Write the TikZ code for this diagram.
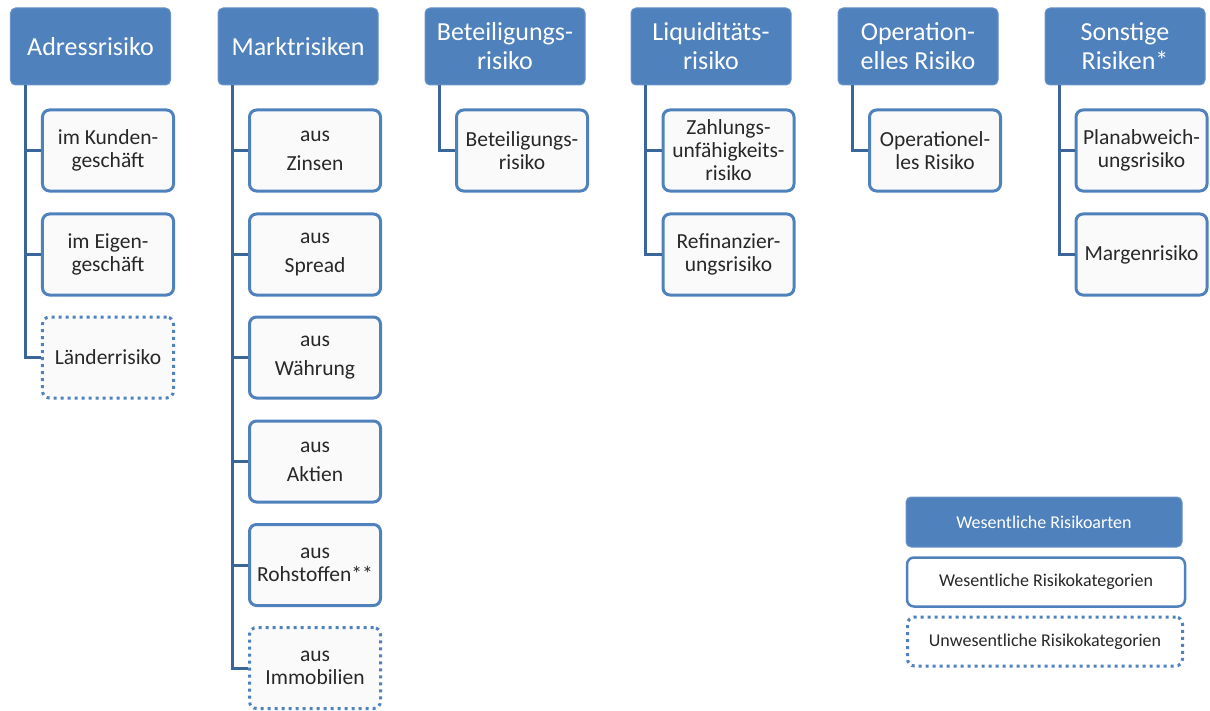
\documentclass[tikz,border=0pt]{standalone}
\usepackage{fontspec}
\setmainfont{Carlito}
\definecolor{riskblue}{RGB}{79,129,189}
\definecolor{linkblue}{RGB}{58,102,156}
\definecolor{boxfill}{RGB}{250,250,250}
\definecolor{textgray}{RGB}{40,40,40}
\begin{document}
\begin{tikzpicture}[x=1bp,y=-1bp,
  riskhead/.style={draw=riskblue!85!white,fill=riskblue,line width=1bp,rounded corners=5bp,
    minimum width=160bp,minimum height=77bp,text=white,align=center,
    font=\fontsize{26bp}{29bp}\selectfont},
  riskcat/.style={draw=riskblue,fill=boxfill,line width=3bp,rounded corners=7bp,
    minimum width=131bp,minimum height=81bp,text=textgray,align=center,
    font=\fontsize{21.5bp}{23bp}\selectfont},
  minorcat/.style={riskcat,dash pattern=on 3bp off 4bp},
  link/.style={draw=linkblue,line width=3bp},
  legfont/.style={font=\fontsize{18bp}{20bp}\selectfont},
]
\useasboundingbox (0,0) rectangle (1210,711);
  % Header row
  \node[riskhead] (adress) at (90.5,46.5) {Adressrisiko};
  \node[riskhead] (markt) at (298,46.5) {Marktrisiken};
  \node[riskhead] (beteil) at (505,46.5) {Beteiligungs-\\risiko};
  \node[riskhead] (liquid) at (711,46.5) {Liquiditäts-\\risiko};
  \node[riskhead] (operat) at (918,46.5) {Operation-\\elles Risiko};
  \node[riskhead] (sonst) at (1125,46.5) {Sonstige\\Risiken*};
  % Node: adress children
  \node[riskcat] (adress1) at (108,150.5) {im Kunden-\\geschäft};
  \node[riskcat] (adress2) at (108,254.5) {im Eigen-\\geschäft};
  \node[minorcat] (adress3) at (108,357.5) {Länderrisiko};
  % Node: markt children
  \node[riskcat] (markt1) at (315,150.5) {aus\\[6bp]Zinsen};
  \node[riskcat] (markt2) at (315,254.5) {aus\\[6bp]Spread};
  \node[riskcat] (markt3) at (315,357.5) {aus\\[6bp]Währung};
  \node[riskcat] (markt4) at (315,461.5) {aus\\[6bp]Aktien};
  \node[riskcat] (markt5) at (315,565) {aus\\Rohstoffen**};
  \node[minorcat] (markt6) at (315,668) {aus\\Immobilien};
  % Node: beteil, liquid, operat, sonst children
  \node[riskcat] (beteil1) at (522,150.5) {Beteiligungs-\\risiko};
  \node[riskcat] (liquid1) at (728.5,150.5) {Zahlungs-\\unfähigkeits-\\risiko};
  \node[riskcat] (liquid2) at (728.5,254.5) {Refinanzier-\\ungsrisiko};
  \node[riskcat] (operat1) at (935,150.5) {Operationel-\\les Risiko};
  \node[riskcat] (sonst1) at (1141.5,150.5) {Planabweich-\\ungsrisiko};
  \node[riskcat] (sonst2) at (1141.5,254.5) {Margenrisiko};
  % Edges: header -> category
  \draw[link] ([xshift=16bp]adress.south west) |- (adress1.west);
  \draw[link] ([xshift=16bp]adress.south west) |- (adress2.west);
  \draw[link] ([xshift=16bp]adress.south west) |- (adress3.west);
  \draw[link] ([xshift=15bp]markt.south west) |- (markt1.west);
  \draw[link] ([xshift=15bp]markt.south west) |- (markt2.west);
  \draw[link] ([xshift=15bp]markt.south west) |- (markt3.west);
  \draw[link] ([xshift=15bp]markt.south west) |- (markt4.west);
  \draw[link] ([xshift=15bp]markt.south west) |- (markt5.west);
  \draw[link] ([xshift=15bp]markt.south west) |- (markt6.west);
  \draw[link] ([xshift=15bp]beteil.south west) |- (beteil1.west);
  \draw[link] ([xshift=15bp]liquid.south west) |- (liquid1.west);
  \draw[link] ([xshift=15bp]liquid.south west) |- (liquid2.west);
  \draw[link] ([xshift=15bp]operat.south west) |- (operat1.west);
  \draw[link] ([xshift=15bp]sonst.south west) |- (sonst1.west);
  \draw[link] ([xshift=15bp]sonst.south west) |- (sonst2.west);
  % Legend
  \node[riskhead,minimum width=276bp,minimum height=50bp,legfont] (legmain) at (1044,522) {Wesentliche Risikoarten};
  \node[riskcat,fill=white,line width=2.5bp,minimum width=278bp,minimum height=49bp,legfont] (legcat) at (1046,582) {Wesentliche Risikokategorien};
  \node[minorcat,fill=white,minimum width=275bp,minimum height=49bp,legfont] (legminor) at (1045,641.5) {Unwesentliche Risikokategorien};
\end{tikzpicture}
\end{document}
